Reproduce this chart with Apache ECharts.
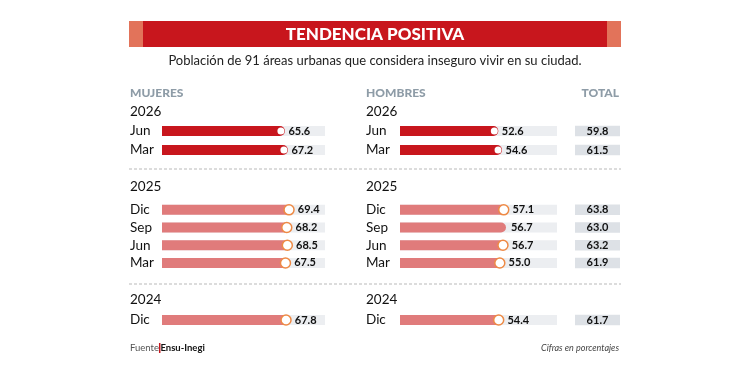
<!DOCTYPE html>
<html>
<head>
<meta charset="utf-8">
<script src="https://cdn.jsdelivr.net/npm/echarts@6/dist/echarts.min.js"></script>
<style>
  html, body { margin: 0; padding: 0; background: #fff; }
  #chart { width: 750px; height: 375px; }
</style>
</head>
<body>
<div id="chart"></div>
<script>
    // datos
    const years = ['2026', '2025', '2024'];
    const months2026 = ['Jun', 'Mar'];
    const mujeres2026 = [65.6, 67.2];
    const hombres2026 = [52.6, 54.6];
    const total2026 = [59.8, 61.5];

    const months2025 = ['Dic', 'Sep', 'Jun', 'Mar'];
    const mujeres2025 = [69.4, 68.2, 68.5, 67.5];
    const hombres2025 = [57.1, 56.7, 56.7, 55.0];
    const total2025 = [63.8, 63.0, 63.2, 61.9];

    const months2024 = ['Dic'];
    const mujeres2024 = [67.8];
    const hombres2024 = [54.4];
    const total2024 = [61.7];

    const FONT = "Lato, 'Noto Sans', sans-serif";

    let groups = [
        { year: years[0], months: months2026, mujeres: mujeres2026, hombres: hombres2026, total: total2026,
          top: 121.5, rowH: 19, color: '#c8161d', dark: true, yearY: 112 },
        { year: years[1], months: months2025, mujeres: mujeres2025, hombres: hombres2025, total: total2025,
          top: 201, rowH: 17.7, color: '#e07b7b', dark: false, yearY: 187 },
        { year: years[2], months: months2024, mujeres: mujeres2024, hombres: hombres2024, total: total2024,
          top: 311, rowH: 18, color: '#e07b7b', dark: false, yearY: 300 }
    ];

    let grid = [], xAxis = [], yAxis = [], series = [];
    let graphic = [];

    // barra de titulo
    graphic.push({ type: 'rect', shape: { x: 129, y: 21, width: 492, height: 26 }, style: { fill: '#e2735a' } });
    graphic.push({ type: 'rect', shape: { x: 143, y: 21, width: 464, height: 26 }, style: { fill: '#c8161d' } });
    graphic.push({ type: 'text', x: 375, y: 35, style: { text: 'TENDENCIA POSITIVA', fill: '#fff', font: "900 17px " + FONT, align: 'center', verticalAlign: 'middle' } });
    graphic.push({ type: 'text', x: 375, y: 61, style: { text: 'Población de 91 áreas urbanas que considera inseguro vivir en su ciudad.', fill: '#222', font: "13px " + FONT, align: 'center', verticalAlign: 'middle' } });

    // encabezados
    const headColor = '#8e9ca7';
    graphic.push({ type: 'text', x: 130, y: 93, style: { text: 'MUJERES', fill: headColor, font: "900 12px " + FONT, verticalAlign: 'middle' } });
    graphic.push({ type: 'text', x: 366, y: 93, style: { text: 'HOMBRES', fill: headColor, font: "900 12px " + FONT, verticalAlign: 'middle' } });
    graphic.push({ type: 'text', x: 619, y: 93, style: { text: 'TOTAL', fill: headColor, font: "900 12px " + FONT, align: 'right', verticalAlign: 'middle' } });

    // separadores
    [169, 284].forEach(function (y) {
        graphic.push({ type: 'line', shape: { x1: 129, y1: y, x2: 621, y2: y }, style: { stroke: '#b9b9b9', lineWidth: 1, lineDash: [3, 2] } });
    });

    // pie
    graphic.push({ type: 'text', x: 130, y: 348, style: {
        text: '{a|Fuente}{b|}{c|Ensu-Inegi}', verticalAlign: 'middle',
        rich: {
            a: { fill: '#555', font: "9.5px " + FONT },
            b: { width: 1.5, height: 10, backgroundColor: '#c8161d' },
            c: { fill: '#111', font: "bold 9.5px " + FONT }
        }
    } });
    graphic.push({ type: 'text', x: 619, y: 348, style: { text: 'Cifras en porcentajes', fill: '#444', font: "italic 9px " + FONT, align: 'right', verticalAlign: 'middle' } });

    const cols = [
        { key: 'mujeres', left: 162, width: 163, max: 87, labelX: 130 },
        { key: 'hombres', left: 400, width: 157, max: 84, labelX: 366 }
    ];

    groups.forEach(function (g) {
        let height = g.rowH * g.months.length;
        cols.forEach(function (c) {
            graphic.push({ type: 'text', x: c.labelX, y: g.yearY, style: { text: g.year, fill: '#111', font: "13.5px " + FONT, verticalAlign: 'middle' } });
            let idx = grid.length;
            grid.push({ left: c.left, top: g.top, width: c.width, height: height });
            xAxis.push({ gridIndex: idx, type: 'value', min: 0, max: c.max, show: false });
            yAxis.push({
                gridIndex: idx, type: 'category', data: g.months, inverse: true,
                axisLine: { show: false }, axisTick: { show: false },
                axisLabel: { interval: 0, align: 'left', margin: c.left - c.labelX, color: '#111', fontSize: 13.5, fontFamily: FONT }
            });
            let vals = g[c.key];
            series.push({
                type: 'bar', xAxisIndex: idx, yAxisIndex: idx, data: vals, barWidth: 10,
                showBackground: true, backgroundStyle: { color: '#eceef1' },
                itemStyle: { color: g.color, borderRadius: [0, 5, 5, 0] },
                silent: true
            });
            series.push({
                type: 'scatter', xAxisIndex: idx, yAxisIndex: idx,
                data: vals.map(function (v, i) {
                    let item = { value: [v, i] };
                    // en la grafica original el punto de Sep 2025 (hombres) no aparece
                    if (c.key === 'hombres' && g.year === '2025' && g.months[i] === 'Sep') {
                        item.itemStyle = { color: 'rgba(0,0,0,0)', borderWidth: 0 };
                    }
                    return item;
                }),
                symbol: 'circle',
                symbolSize: g.dark ? 7 : 10,
                symbolOffset: [g.dark ? -4 : -3, 0],
                itemStyle: g.dark ? { color: '#fff', opacity: 1 } : { color: '#fff', borderColor: '#ee8a45', borderWidth: 1.5, opacity: 1 },
                label: {
                    show: true, position: 'right', distance: g.dark ? 4 : 3,
                    formatter: function (p) { return p.value[0].toFixed(1); },
                    color: '#111', fontSize: 11, fontWeight: 'bold', fontFamily: FONT
                },
                silent: true, z: 5
            });
        });

        // total
        let t = grid.length;
        grid.push({ left: 575, top: g.top, width: 45, height: height });
        xAxis.push({ gridIndex: t, type: 'category', data: ['TOTAL'], show: false });
        yAxis.push({ gridIndex: t, type: 'category', data: g.months, inverse: true, show: false });
        series.push({
            type: 'scatter', xAxisIndex: t, yAxisIndex: t,
            data: g.total.map(function (v, i) { return [0, i, v]; }),
            symbol: 'rect', symbolSize: [45, 10.5],
            itemStyle: { color: '#dde1e6', opacity: 1 },
            label: {
                show: true, position: 'inside',
                formatter: function (p) { return p.value[2].toFixed(1); },
                color: '#111', fontSize: 11, fontWeight: 'bold', fontFamily: FONT
            },
            silent: true
        });
    });

    let chart = echarts.init(document.getElementById('chart'), null, { renderer: 'canvas' });
    chart.setOption({
        animation: false,
        backgroundColor: '#fff',
        textStyle: { fontFamily: FONT },
        grid: grid,
        xAxis: xAxis,
        yAxis: yAxis,
        series: series,
        graphic: graphic
    });
</script>
</body>
</html>
